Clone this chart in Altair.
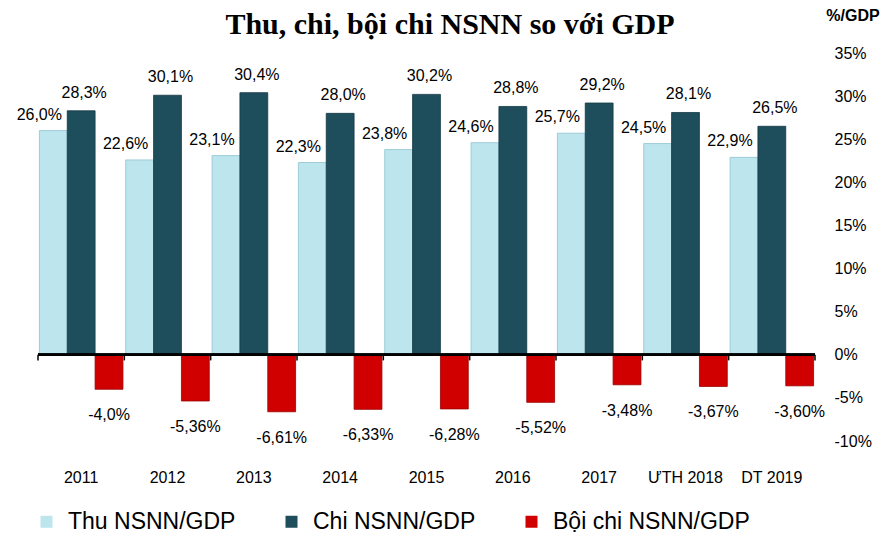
import altair as alt
import pandas as pd

years = ["2011", "2012", "2013", "2014", "2015", "2016", "2017", "ƯTH 2018", "DT 2019"]
series = ["Thu NSNN/GDP", "Chi NSNN/GDP", "Bội chi NSNN/GDP"]
thu = [26.0, 22.6, 23.1, 22.3, 23.8, 24.6, 25.7, 24.5, 22.9]
chi = [28.3, 30.1, 30.4, 28.0, 30.2, 28.8, 29.2, 28.1, 26.5]
boi = [-4.0, -5.36, -6.61, -6.33, -6.28, -5.52, -3.48, -3.67, -3.60]
thu_lbl = ["26,0%", "22,6%", "23,1%", "22,3%", "23,8%", "24,6%", "25,7%", "24,5%", "22,9%"]
chi_lbl = ["28,3%", "30,1%", "30,4%", "28,0%", "30,2%", "28,8%", "29,2%", "28,1%", "26,5%"]
boi_lbl = ["-4,0%", "-5,36%", "-6,61%", "-6,33%", "-6,28%", "-5,52%", "-3,48%", "-3,67%", "-3,60%"]
colors = ["#BDE5EE", "#1E4D5B", "#D10000"]
strokes = ["#8FC3D0", "#143A45", "#9A0000"]
title_text = "Thu, chi, bội chi NSNN so với GDP"
unit_text = "%/GDP"

rows = []
for vals, lbls, s in [(thu, thu_lbl, series[0]), (chi, chi_lbl, series[1]), (boi, boi_lbl, series[2])]:
    for y, v, l in zip(years, vals, lbls):
        rows.append({"year": y, "series": s, "value": v, "label": l})
df = pd.DataFrame(rows)
ydf = pd.DataFrame({"year": years})

W, H = 777, 388
font = "Liberation Sans"

xenc = alt.X("year:N", sort=years, scale=alt.Scale(paddingInner=0, paddingOuter=0),
             axis=alt.Axis(title=None, domain=False, ticks=False, labelAngle=0,
                           labelPadding=28, labelFontSize=16, labelFont=font,
                           labelColor="#000"))
xoff = alt.XOffset("series:N", sort=series,
                   scale=alt.Scale(domain=series, paddingInner=0, paddingOuter=0.05))
yenc = alt.Y("value:Q", scale=alt.Scale(domain=[-10, 35], nice=False),
             axis=alt.Axis(orient="right", title=None, values=list(range(-10, 36, 5)),
                           labelExpr="datum.value + '%'", grid=False, domain=False,
                           ticks=False, labelPadding=19, labelFontSize=16,
                           labelFont=font, labelColor="#000", labelAlign="left"))

bars = alt.Chart(df).mark_bar(strokeWidth=0.8).encode(
    x=xenc, xOffset=xoff, y=yenc,
    color=alt.Color("series:N", sort=series,
                    scale=alt.Scale(domain=series, range=colors),
                    legend=alt.Legend(title=None, orient="none", direction="horizontal",
                                      legendX=-3, legendY=457, symbolType="square",
                                      symbolSize=144, symbolStrokeWidth=0,
                                      labelFontSize=23, labelFont=font, labelColor="#000",
                                      labelLimit=400, columnPadding=44, labelOffset=10)),
    stroke=alt.Color("series:N", sort=series,
                     scale=alt.Scale(domain=series, range=strokes),
                     legend=None),
)

def txt(sname, dx, dy, baseline):
    return alt.Chart(df).transform_filter(alt.datum.series == sname).mark_text(
        dx=dx, dy=dy, baseline=baseline, fontSize=16, font=font, color="#000"
    ).encode(
        x=alt.X("year:N", sort=years), xOffset=xoff, y="value:Q", text="label:N"
    )

t1 = txt(series[0], -14, -8, "bottom")
t2 = txt(series[1], 3, -10, "bottom")
t3 = txt(series[2], 0, 18, "top")

zero = alt.Chart(ydf).mark_rule(color="#000", strokeWidth=2).encode(
    y=alt.datum(0), x=alt.value(0), x2=alt.value(W))
ticks = alt.Chart(ydf).mark_rule(color="#000", strokeWidth=1.5).encode(
    x=alt.X("year:N", sort=years, bandPosition=0), y=alt.datum(0), y2=alt.datum(-0.65))
lasttick = alt.Chart(ydf).transform_filter(alt.datum.year == years[-1]).mark_rule(
    color="#000", strokeWidth=1.5).encode(
    x=alt.value(W), y=alt.datum(0), y2=alt.datum(-0.65))

unit = alt.Chart(ydf).transform_filter(alt.datum.year == years[0]).mark_text(
    text=unit_text, fontSize=16, fontWeight="bold", font=font, color="#000",
    align="center", baseline="middle"
).encode(x=alt.value(W + 38), y=alt.value(-37))

title = alt.Chart(ydf).transform_filter(alt.datum.year == years[0]).mark_text(
    text=title_text, fontSize=30, fontWeight="bold", font="Liberation Serif",
    color="#000", align="center", baseline="alphabetic"
).encode(x=alt.value(412), y=alt.value(-19))

chart = alt.layer(bars, t1, t2, t3, zero, ticks, lasttick, unit, title).properties(
    width=W, height=H,
    autosize=alt.AutoSizeParams(type="none"),
    padding={"left": 30, "top": 45, "right": 72, "bottom": 92},
).configure_view(stroke=None)

chart.save("out.html", embed_options={"renderer": "svg", "actions": False})
